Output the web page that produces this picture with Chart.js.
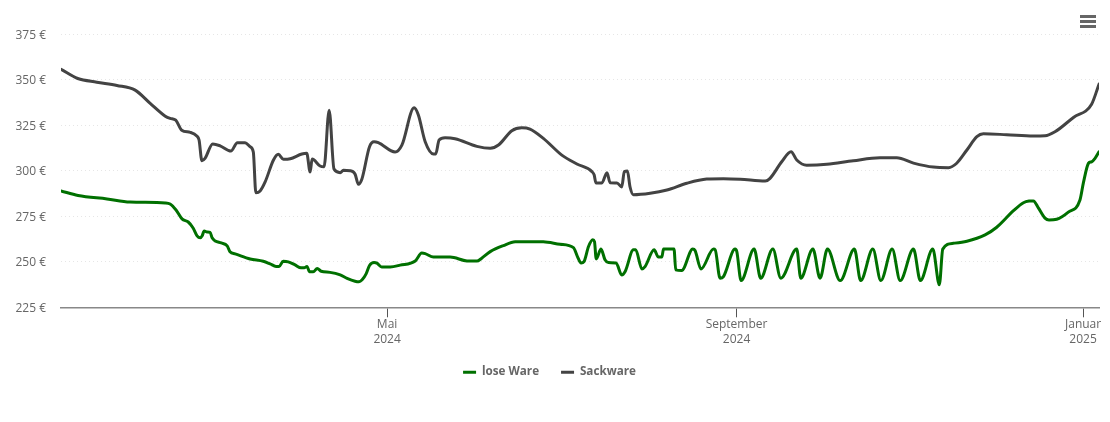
<!DOCTYPE html>
<html>
<head>
<meta charset="utf-8">
<style>
html, body { margin: 0; padding: 0; background: #fff; }
#box { width: 1110px; height: 422px; }
</style>
<script src="https://cdn.jsdelivr.net/npm/chart.js@4"></script>
</head>
<body>
<div id="box"><canvas id="myChart"></canvas></div>
<script>
// x values are days counted from 1 Jan 2024
const seriesNames = ['lose Ware', 'Sackware'];
const tickDays = [121, 244, 366];
const tickLabels = [['Mai', '2024'], ['September', '2024'], ['Januar', '2025']];

const loseDays = [6.2,12.2,22.4,30.5,42.9,44.6,46.7,48.8,51,52.7,54.1,55.2,55.9,56.6,57.6,58.7,59.4,60.5,62.6,64.7,65.7,67.5,72.8,77.4,79.8,81.9,83,84.4,86.2,88.6,90.7,91.8,92.8,93.7,95,96.4,97.8,100.9,104.5,106.9,109.7,111.1,112.2,113.6,114.8,116.4,117.4,119.1,122.1,125.6,130.9,133.2,134.4,137.3,143.2,149.1,152.6,154.3,157.3,161.9,166.1,170.2,176,181.9,186.6,188,189.3,190.3,191.9,193.4,194,194.6,196.3,197.7,198.9,201.6,203.6,204.8,207.7,208.5,210.7,211.8,215,216.5,217.7,218.3,222,222.6,224.7,228.6,229.4,231.5,235.9,236.5,238.2,239.4,243.5,244.1,245.6,250.2,252.5,256.8,259.6,265.2,266.6,270.9,273.4,276,280.5,285.5,287.7,292,294.8,298.8,301.6,306.3,308.7,313.1,315.4,316.6,320.3,325.1,331.5,335.6,341.5,345,347,348.5,350.3,352.6,354,356.7,360.8,364.9,366.1,367.9,369,370.2,371.6];
const losePrices = [289,286.5,284.6,282.9,282.4,281.8,278.5,273.6,271.9,268.6,264.3,263.2,264.3,267,266.4,266.2,263.2,261.5,260.4,258.8,255.5,254.4,251.6,250.3,248.9,247.5,247.5,250.3,250,248.3,246.7,246.7,247.5,244.5,244.5,246.4,244.8,244.2,242.8,240.9,239.3,239,240.1,243.4,248,249.6,249.3,247.2,247.2,248.2,250.5,254.8,254.5,252.6,252.6,250.5,250.4,252,255.6,258.9,261,261.1,261,259.7,257.8,252.9,249.3,250.1,258.4,262.1,261.1,251.6,257,251.1,249.6,249.4,242.8,244.7,256.6,256.6,246.1,247.4,256.6,252.6,252.6,257,257,245.6,245.2,257,256.2,246.1,257,256.6,241,241.9,257,255.6,239.7,257,241,257,241,257,241,257,241,257,239.7,257,239.7,257,239.7,257,239.7,257,239.7,257,237.4,257,260.2,261.3,264.8,269,278.1,282.5,283.4,283.5,279.5,274,273,273.4,277.3,284,293.4,304.2,305,306.9,310.5];

const sackDays = [6.2,12.1,18.8,25.9,32.3,37.6,42.9,44.6,46.6,48.7,51.7,54,54.8,55.8,56.9,59.6,62.2,66,68.3,71,72.8,73.9,74.8,76.3,78.1,81,82.7,84.5,86.9,91,92.7,93.9,94.6,97.4,98.8,100.6,102.3,104.5,105.6,108,109.7,110.9,112.1,114.8,116.4,117.9,123.8,126.2,130.5,132,134.4,137.3,138.1,139.3,141.4,144.9,152.6,157.3,160.2,164.9,168.4,171.3,176,182.5,187.8,193.1,193.9,194.5,196.6,198.4,199.5,201.9,203.6,204.5,205.6,206.5,207.7,213.6,219.5,226.5,233.5,239.4,245.3,254.1,255.8,259.9,263.2,265.2,268.7,275.8,285.1,294.5,300.4,306.3,313.3,318.6,321.5,325.1,328.6,330.9,339.1,348.5,352.6,356.1,362.6,369,371.6];
const sackPrices = [355.9,350.8,348.8,347,344.4,337.1,330.1,328.9,327.9,322.4,321.2,319.2,317,305.6,306.9,314.8,313.8,310.9,315.5,315.5,313.3,310.4,288,289,294.1,306,309.1,306.4,306.7,309.3,309.7,299.4,306.5,302.7,302.3,333.4,301,299,300.3,300.1,298.3,292.6,295.4,313.3,316,315.5,310.4,314.2,334.7,330.7,316,309.3,309.3,317,318.2,317.7,313.5,312.4,314.2,322.1,323.7,323,317.9,308.7,303.8,299.6,297.7,293.4,293.4,299,293.5,293.4,291.2,299.6,299.9,291.3,286.9,287.7,289.5,293.2,295.5,295.7,295.4,294.4,295.9,305,310.5,306,303.1,303.6,305.6,307.2,307.2,304.3,302.1,301.8,304.2,311.5,318.8,320.4,319.9,319.2,319.3,321.5,329.4,336.7,347.7];

function toPoints(days, prices) {
    return days.map(function (d, i) { return { x: d, y: prices[i] }; });
}

// the little menu icon in the top right corner
const menuIcon = {
    id: 'menuIcon',
    afterDraw: function (chart) {
        const ctx = chart.ctx;
        ctx.save();
        ctx.fillStyle = '#666666';
        [15, 20, 25].forEach(function (y) {
            ctx.fillRect(1080, y, 16, 3);
        });
        ctx.restore();
    }
};

// y labels sit about a pixel lower against their grid lines than the default
const nudgeYLabels = {
    id: 'nudgeYLabels',
    beforeDraw: function (chart) {
        chart.scales.y.getLabelItems(chart.chartArea).forEach(function (item) {
            if (!item.nudged) {
                item.options.translation[1] += 1;
                item.nudged = true;
            }
        });
    }
};

const config = {
    type: 'line',
    data: {
        datasets: [
            { label: seriesNames[0], data: toPoints(loseDays, losePrices), borderColor: '#007000', backgroundColor: '#007000', borderWidth: 3 },
            { label: seriesNames[1], data: toPoints(sackDays, sackPrices), borderColor: '#434343', backgroundColor: '#434343', borderWidth: 3 }
        ]
    },
    options: {
        responsive: true,
        maintainAspectRatio: false,
        animation: false,
        layout: { padding: { top: 34.5, right: 11, left: 0, bottom: 34 } },
        elements: {
            point: { radius: 0 },
            line: { cubicInterpolationMode: 'monotone', borderCapStyle: 'round', borderJoinStyle: 'round' }
        },
        scales: {
            x: {
                type: 'linear',
                min: 6.2,
                max: 371.6,
                afterBuildTicks: function (axis) {
                    axis.ticks = tickDays.map(function (d) { return { value: d }; });
                },
                afterFit: function (axis) { axis.height = 37; },
                grid: { drawOnChartArea: false, drawTicks: true, tickLength: 10, color: '#555555', lineWidth: 1 },
                border: { display: true, color: '#888888', width: 1.5 },
                ticks: {
                    autoSkip: false,
                    maxRotation: 0,
                    padding: 0,
                    color: '#666666',
                    font: { family: '"Open Sans"', size: 12, lineHeight: 1.25 },
                    callback: function (value) {
                        return tickLabels[tickDays.indexOf(value)];
                    }
                }
            },
            y: {
                min: 225,
                max: 375,
                afterFit: function (axis) { axis.width = 61; },
                grid: { drawTicks: false, color: '#e6e6e6', lineWidth: 1 },
                border: { display: false, dash: [1, 3] },
                ticks: {
                    stepSize: 25,
                    padding: 15,
                    color: '#666666',
                    font: { family: '"Open Sans"', size: 12 },
                    callback: function (value) { return value + ' €'; }
                }
            }
        },
        plugins: {
            title: { display: false },
            tooltip: { enabled: false },
            legend: {
                position: 'bottom',
                labels: {
                    usePointStyle: true,
                    pointStyle: 'line',
                    pointStyleWidth: 13,
                    boxHeight: 12,
                    padding: 22,
                    color: '#666666',
                    font: { family: '"Open Sans"', size: 11.7, weight: 'bold' }
                }
            }
        }
    },
    plugins: [menuIcon, nudgeYLabels]
};

var myChart = new Chart(document.getElementById('myChart'), config);
</script>
</body>
</html>
